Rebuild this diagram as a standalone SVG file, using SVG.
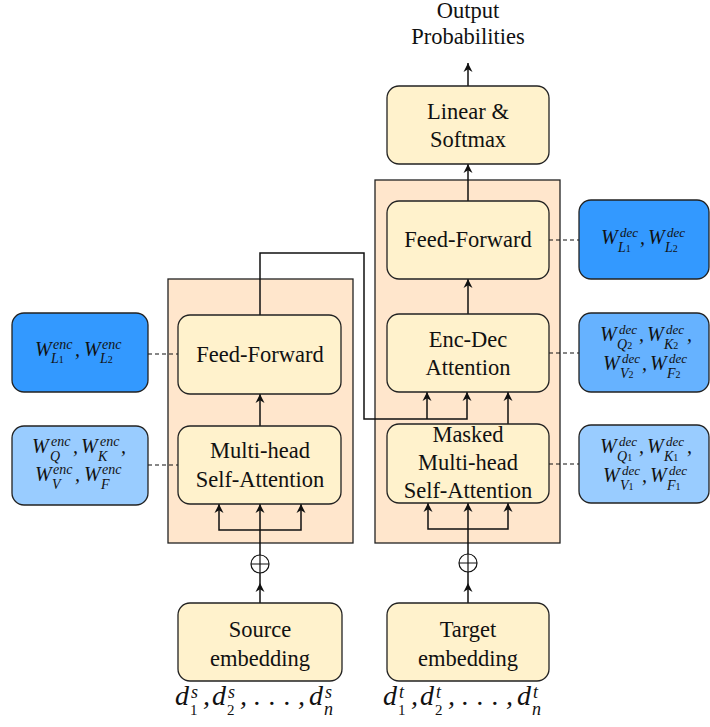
<svg xmlns="http://www.w3.org/2000/svg" width="710" height="727" viewBox="0 0 710 727">
<defs>
<style>
.cont{fill:#ffe6cc;stroke:#222;stroke-width:1.3}
.node{fill:#fff2cc;stroke:#222;stroke-width:1.3}
.b1{fill:#3399ff;stroke:#222;stroke-width:1.3}
.b2{fill:#66b2ff;stroke:#222;stroke-width:1.3}
.b3{fill:#99ccff;stroke:#222;stroke-width:1.3}
.t{font-family:"Liberation Serif",serif;font-size:22.5px;text-anchor:middle;fill:#111}
.W{font-family:"Liberation Serif",serif;font-size:20px;font-style:italic;fill:#111}
.sp{font-family:"Liberation Serif",serif;font-size:14px;font-style:italic;fill:#111}
.sq{font-family:"Liberation Serif",serif;font-size:13px;font-style:italic;fill:#111}
.sd{font-family:"Liberation Serif",serif;font-size:10px;font-style:normal}
.d{font-family:"Liberation Serif",serif;font-size:28px;font-style:italic;fill:#111}
.ds{font-family:"Liberation Serif",serif;font-size:18px;font-style:italic;fill:#111}
.dn{font-family:"Liberation Serif",serif;font-size:15px;fill:#111}
.c{fill:none;stroke:#111;stroke-width:1.5}
.a{fill:none;stroke:#111;stroke-width:1.5;marker-end:url(#ah)}
.dash{fill:none;stroke:#111;stroke-width:1.1;stroke-dasharray:4,3}
</style>
<marker id="ah" viewBox="0 0 10 10" refX="10" refY="5" markerWidth="9" markerHeight="10" orient="auto" markerUnits="userSpaceOnUse">
<path d="M0,0 L10,5 L0,10 L3,5 z" fill="#111"/>
</marker>
</defs>

<g id="dec-container"><rect class="cont" x="375" y="180" width="185" height="363"/></g>
<g id="enc-container"><rect class="cont" x="168" y="279" width="185" height="264"/></g>

<g id="connectors">
<path class="a" d="M468,86 V63"/>
<path class="a" d="M468,201 V164"/>
<path class="a" d="M468,314 V279"/>
<path class="a" d="M508,424 V392"/>
<path class="a" d="M260,315 V253 H364 V419 H467 V392"/>
<path class="a" d="M427,419 V392"/>
<path class="a" d="M260,426 V394"/>
<path class="a" d="M260,530 H219 V504"/>
<path class="a" d="M260,530 H301 V504"/>
<path class="a" d="M260,555 V504"/>
<path class="a" d="M260,603 V583"/>
<path class="c" d="M260,583 V573"/>
<path class="a" d="M468,529 H428 V503"/>
<path class="a" d="M468,529 H508 V503"/>
<path class="a" d="M468,554 V503"/>
<path class="a" d="M468,603 V583"/>
<path class="c" d="M468,583 V572"/>
<path class="dash" d="M148,354 H178"/>
<path class="dash" d="M148,465 H178"/>
<path class="dash" d="M549,240 H579"/>
<path class="dash" d="M549,353 H579"/>
<path class="dash" d="M549,464 H579"/>
</g>

<g id="oplus-enc"><circle cx="260" cy="564" r="9" fill="none" stroke="#111" stroke-width="1.2"/><path d="M251,564 H269 M260,555 V573" stroke="#111" stroke-width="1.2"/></g>
<g id="oplus-dec"><circle cx="468" cy="563" r="9" fill="none" stroke="#111" stroke-width="1.2"/><path d="M459,563 H477 M468,554 V572" stroke="#111" stroke-width="1.2"/></g>

<g id="output-label"><text class="t" x="468" y="18">Output</text><text class="t" x="468" y="44">Probabilities</text></g>

<g id="linear"><rect class="node" x="387" y="86" width="162" height="78" rx="12"/><text class="t" x="468" y="119">Linear &amp;</text><text class="t" x="468" y="147">Softmax</text></g>
<g id="dec-ff"><rect class="node" x="387" y="201" width="162" height="78" rx="12"/><text class="t" x="468" y="247">Feed-Forward</text></g>
<g id="enc-dec"><rect class="node" x="387" y="314" width="162" height="78" rx="12"/><text class="t" x="468" y="347">Enc-Dec</text><text class="t" x="468" y="375">Attention</text></g>
<g id="masked"><rect class="node" x="387" y="424" width="162" height="79" rx="12"/><text class="t" x="468" y="442">Masked</text><text class="t" x="468" y="470">Multi-head</text><text class="t" x="468" y="498">Self-Attention</text></g>
<g id="enc-ff"><rect class="node" x="178" y="315" width="163" height="79" rx="12"/><text class="t" x="260" y="362">Feed-Forward</text></g>
<g id="enc-mhsa"><rect class="node" x="178" y="426" width="163" height="78" rx="12"/><text class="t" x="260" y="458">Multi-head</text><text class="t" x="260" y="487">Self-Attention</text></g>
<g id="src-emb"><rect class="node" x="178" y="603" width="164" height="78" rx="12"/><text class="t" x="260" y="637">Source</text><text class="t" x="260" y="666">embedding</text></g>
<g id="tgt-emb"><rect class="node" x="387" y="603" width="162" height="78" rx="12"/><text class="t" x="468" y="637">Target</text><text class="t" x="468" y="666">embedding</text></g>

<g id="enc-wl"><rect class="b1" x="12" y="313" width="136" height="79" rx="12"/>
<text class="W" x="35" y="356">W</text><text class="sp" x="53" y="349">enc</text><text class="sp" x="51" y="363">L<tspan class="sd">1</tspan></text>
<text class="W" x="75" y="356">,</text>
<text class="W" x="84" y="356">W</text><text class="sp" x="102" y="349">enc</text><text class="sp" x="100" y="363">L<tspan class="sd">2</tspan></text>
</g>
<g id="enc-wq"><rect class="b3" x="12" y="426" width="136" height="79" rx="12"/>
<text class="W" x="32" y="453">W</text><text class="sp" x="51" y="446">enc</text><text class="sp" x="50" y="461">Q</text>
<text class="W" x="73" y="453">,</text>
<text class="W" x="81" y="453">W</text><text class="sp" x="100" y="446">enc</text><text class="sp" x="98" y="461">K</text>
<text class="W" x="121" y="453">,</text>
<text class="W" x="35" y="481">W</text><text class="sp" x="53" y="474">enc</text><text class="sp" x="52" y="489">V</text>
<text class="W" x="75" y="481">,</text>
<text class="W" x="84" y="481">W</text><text class="sp" x="102" y="474">enc</text><text class="sp" x="101" y="489">F</text>
</g>
<g id="dec-wl"><rect class="b1" x="579" y="200" width="130" height="79" rx="12"/>
<text class="W" x="601" y="244">W</text><text class="sq" x="620" y="237">dec</text><text class="sp" x="618" y="252">L<tspan class="sd">1</tspan></text>
<text class="W" x="640" y="244">,</text>
<text class="W" x="648" y="244">W</text><text class="sq" x="667" y="237">dec</text><text class="sp" x="665" y="252">L<tspan class="sd">2</tspan></text>
</g>
<g id="dec-wq2"><rect class="b2" x="579" y="313" width="130" height="79" rx="12"/>
<text class="W" x="600" y="341">W</text><text class="sq" x="619" y="334">dec</text><text class="sp" x="617" y="349">Q<tspan class="sd">2</tspan></text>
<text class="W" x="639" y="341">,</text>
<text class="W" x="647" y="341">W</text><text class="sq" x="666" y="334">dec</text><text class="sp" x="664" y="349">K<tspan class="sd">2</tspan></text>
<text class="W" x="687" y="341">,</text>
<text class="W" x="603" y="370">W</text><text class="sq" x="622" y="363">dec</text><text class="sp" x="620" y="378">V<tspan class="sd">2</tspan></text>
<text class="W" x="642" y="370">,</text>
<text class="W" x="650" y="370">W</text><text class="sq" x="669" y="363">dec</text><text class="sp" x="667" y="378">F<tspan class="sd">2</tspan></text>
</g>
<g id="dec-wq1"><rect class="b3" x="579" y="425" width="130" height="78" rx="12"/>
<text class="W" x="600" y="453">W</text><text class="sq" x="619" y="446">dec</text><text class="sp" x="617" y="461">Q<tspan class="sd">1</tspan></text>
<text class="W" x="639" y="453">,</text>
<text class="W" x="647" y="453">W</text><text class="sq" x="666" y="446">dec</text><text class="sp" x="664" y="461">K<tspan class="sd">1</tspan></text>
<text class="W" x="687" y="453">,</text>
<text class="W" x="603" y="482">W</text><text class="sq" x="622" y="475">dec</text><text class="sp" x="620" y="490">V<tspan class="sd">1</tspan></text>
<text class="W" x="642" y="482">,</text>
<text class="W" x="650" y="482">W</text><text class="sq" x="669" y="475">dec</text><text class="sp" x="667" y="490">F<tspan class="sd">1</tspan></text>
</g>

<g id="src-seq">
<text class="d" x="175" y="705">d</text><text class="ds" x="191" y="698">s</text><text class="dn" x="190" y="715">1</text>
<text class="d" x="203" y="705">,</text>
<text class="d" x="212" y="705">d</text><text class="ds" x="228" y="698">s</text><text class="dn" x="227" y="715">2</text>
<text class="d" x="240" y="705">,</text>
<text class="d" x="254 269 284" y="705">...</text>
<text class="d" x="298" y="705">,</text>
<text class="d" x="309" y="705">d</text><text class="ds" x="325" y="698">s</text><text class="ds" x="324" y="715">n</text>
</g>
<g id="tgt-seq">
<text class="d" x="383" y="705">d</text><text class="ds" x="399" y="698">t</text><text class="dn" x="398" y="715">1</text>
<text class="d" x="411" y="705">,</text>
<text class="d" x="420" y="705">d</text><text class="ds" x="436" y="698">t</text><text class="dn" x="435" y="715">2</text>
<text class="d" x="448" y="705">,</text>
<text class="d" x="462 477 492" y="705">...</text>
<text class="d" x="506" y="705">,</text>
<text class="d" x="517" y="705">d</text><text class="ds" x="533" y="698">t</text><text class="ds" x="532" y="715">n</text>
</g>
</svg>
